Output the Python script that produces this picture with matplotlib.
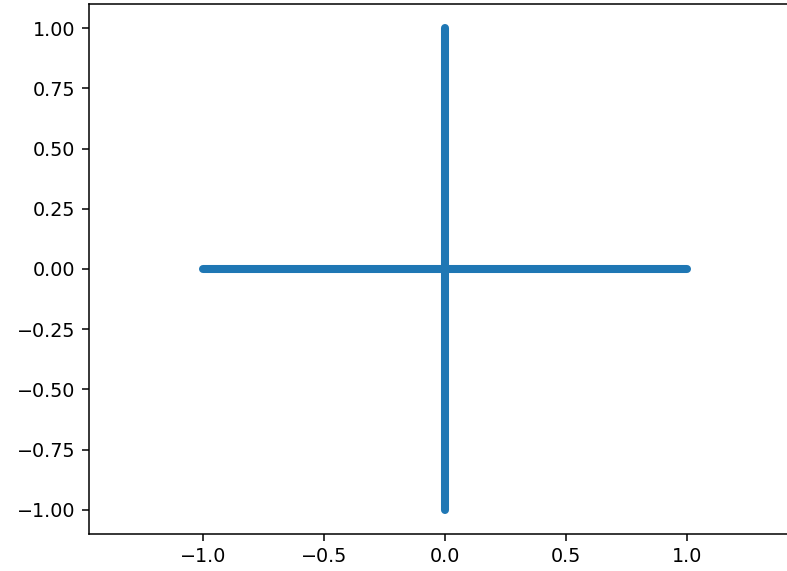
import matplotlib.pyplot as plt

# two arms of the cross (end points)
h_x = [-1.0, 1.0]
h_y = [0.0, 0.0]
v_x = [0.0, 0.0]
v_y = [-1.0, 1.0]

x_ticks = [-1.0, -0.5, 0.0, 0.5, 1.0]
y_ticks = [-1.0, -0.75, -0.5, -0.25, 0.0, 0.25, 0.5, 0.75, 1.0]

# reference looks rendered at a higher dpi, so scale everything up
DPI = 138
fig = plt.figure(figsize=(787 / DPI, 571 / DPI), dpi=DPI)
# right edge of the axes lies just outside the picture, as in the reference
ax = fig.add_axes([89 / 787, 37 / 571, 712 / 787, 530 / 571])

for xs, ys in [(h_x, h_y), (v_x, v_y)]:
    ax.plot(xs, ys, color='#1f77b4', linewidth=4.2, solid_capstyle='round')

ax.set_xlim(-1.47, 1.47)
ax.set_ylim(-1.1, 1.1)
ax.set_xticks(x_ticks)
ax.set_yticks(y_ticks)
ax.set_xticklabels([f'{t:.1f}'.replace('-', '\u2212') for t in x_ticks])
ax.set_yticklabels([f'{t:.2f}'.replace('-', '\u2212') for t in y_ticks])

plt.savefig('out.png', dpi=DPI)
